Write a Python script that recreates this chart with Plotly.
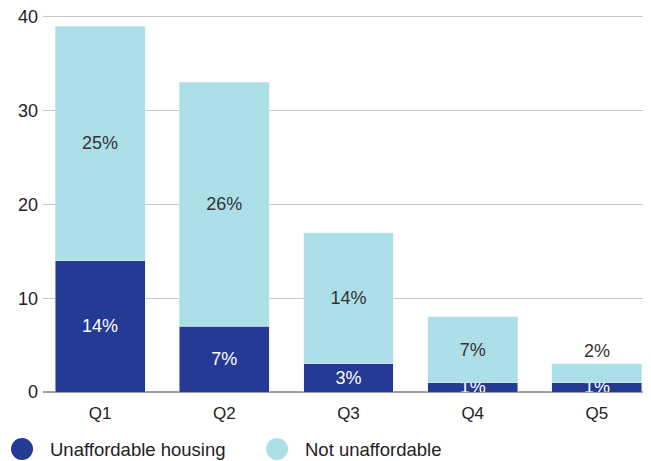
import plotly.graph_objects as go

# quintiles and the two stacked shares
quintiles = ['Q1', 'Q2', 'Q3', 'Q4', 'Q5']
unaffordable = [14, 7, 3, 1, 1]
not_unaffordable = [25, 26, 14, 7, 2]
y_ticks = [0, 10, 20, 30, 40]
legend_names = ['Unaffordable housing', 'Not unaffordable']

dark_blue = '#243A94'
light_blue = '#ADDFE9'
font_family = 'Liberation Sans, Arial, sans-serif'

fig = go.Figure()

# stacked bars, labels show the share as a percentage
fig.add_trace(go.Bar(
    x=quintiles, y=unaffordable, name=legend_names[0],
    marker_color=dark_blue, width=0.724,
    text=[f'{v}%' for v in unaffordable], textposition='inside',
    insidetextanchor='middle', textangle=0,
    textfont=dict(color='white', size=18, family=font_family),
))
fig.add_trace(go.Bar(
    x=quintiles, y=not_unaffordable, name=legend_names[1],
    marker_color=light_blue, width=0.724,
    text=[f'{v}%' for v in not_unaffordable],
    textposition=['inside', 'inside', 'inside', 'inside', 'outside'],
    insidetextanchor='middle', textangle=0,
    textfont=dict(color='#333333', size=18, family=font_family),
    outsidetextfont=dict(color='#333333', size=18, family=font_family),
    cliponaxis=False,
))

# legend drawn by hand: big round swatches plus text
legend_x = [-0.0345, 0.385]
legend_y = -0.151
for name, colour, lx in zip(legend_names, [dark_blue, light_blue], legend_x):
    fig.add_shape(type='circle', xref='paper', yref='paper',
                  xsizemode='pixel', ysizemode='pixel', xanchor=lx, yanchor=legend_y,
                  x0=-11, x1=11, y0=-11, y1=11,
                  fillcolor=colour, line_width=0)
    fig.add_annotation(text=name, xref='paper', yref='paper', x=lx + 0.0427, y=legend_y,
                       xanchor='left', yanchor='middle', showarrow=False,
                       font=dict(size=18.5, color='#222222'))

# the page body has an 8px margin, so the figure is a bit smaller than the window
fig.update_layout(
    width=643, height=453,
    margin=dict(l=35, r=0, t=6, b=69, autoexpand=False),
    barmode='stack',
    plot_bgcolor='white', paper_bgcolor='white',
    font=dict(family=font_family, size=18, color='#222222'),
    uniformtext=dict(minsize=18, mode='show'),
    showlegend=False,
)
fig.update_xaxes(range=[-0.459, 4.435], showgrid=False, ticks='', showline=False,
                 tickfont=dict(size=17), ticklabelstandoff=9)
fig.update_yaxes(range=[0, 40.3], tickvals=y_ticks, showgrid=True, gridcolor='#C8C8C8',
                 gridwidth=1, zeroline=True, zerolinecolor='#A0A0A0', zerolinewidth=2,
                 tickfont=dict(size=18), ticklabelstandoff=4, ticklabeloverflow='allow')

fig.write_html('out.html')
